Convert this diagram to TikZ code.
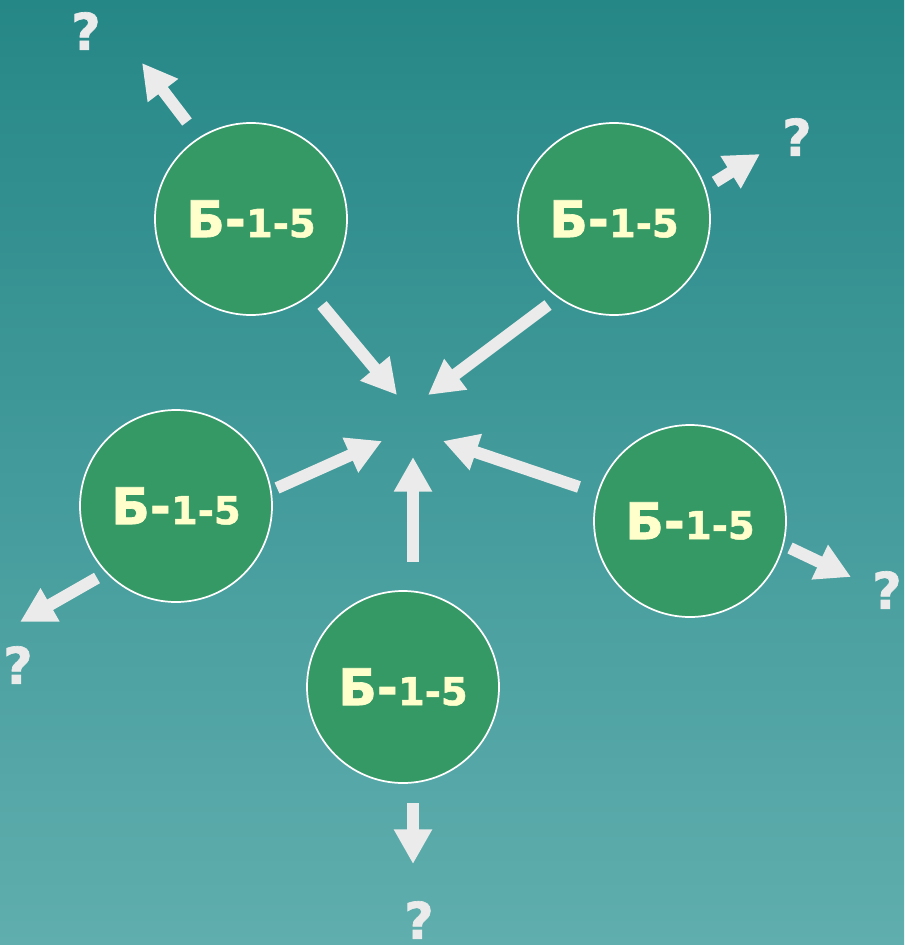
\documentclass[tikz,border=0pt]{standalone}
\usepackage{fontspec}
\setmainfont{DejaVu Sans}
\newfontfamily\heavyfont[BoldFeatures={FakeBold=1.3}]{DejaVu Sans}
\usetikzlibrary{arrows.meta}

\definecolor{bgtop}{RGB}{38,135,135}
\definecolor{bgbottom}{RGB}{96,174,174}
\definecolor{ballgreen}{RGB}{53,153,102}
\definecolor{labelyellow}{RGB}{255,255,204}
\definecolor{arrowgray}{RGB}{235,235,235}

\newcommand{\ballname}{{\heavyfont\fontsize{38}{40}\selectfont\bfseries Б-}{\heavyfont\fontsize{29}{30}\selectfont\bfseries 1-5}}

\begin{document}
\begin{tikzpicture}[x=0.75pt,y=-0.75pt,
    ball/.style={circle, draw=white, line width=1.3pt, fill=ballgreen, minimum size=144pt, inner sep=0pt, text=labelyellow},
    fat/.style={draw=arrowgray, line width=9pt, -{Triangle[width=27pt,length=26pt]}},
    qmark/.style={text=arrowgray, inner sep=0pt, font=\heavyfont\fontsize{38}{40}\selectfont\bfseries}]

        \shade[top color=bgtop, bottom color=bgbottom] (0,0) rectangle (904,945);
        \useasboundingbox (0,0) rectangle (904,945);

        % the five balls
        \node[ball] (b1) at (251,219) {\ballname};
        \node[ball] (b2) at (614,219) {\ballname};
        \node[ball] (b3) at (176,506) {\ballname};
        \node[ball] (b4) at (690,521) {\ballname};
        \node[ball] (b5) at (403,687) {\ballname};

        % question marks
        \node[qmark] (q1) at (86,31) {?};
        \node[qmark] (q2) at (797,137) {?};
        \node[qmark] (q3) at (18,665) {?};
        \node[qmark] (q4) at (887,590) {?};
        \node[qmark] (q5) at (419,920) {?};

        % arrows towards the middle
        \coordinate (i1s) at (322,305); \coordinate (i1e) at (397,395);
        \coordinate (i2s) at (548,305); \coordinate (i2e) at (428,395);
        \coordinate (i3s) at (277,488); \coordinate (i3e) at (382,441);
        \coordinate (i4s) at (579,487); \coordinate (i4e) at (443,441);
        \coordinate (i5s) at (413,562); \coordinate (i5e) at (413,457);
        \draw[fat] (i1s) -- (i1e);
        \draw[fat] (i2s) -- (i2e);
        \draw[fat] (i3s) -- (i3e);
        \draw[fat] (i4s) -- (i4e);
        \draw[fat] (i5s) -- (i5e);

        % arrows going out
        \coordinate (o1s) at (187,122); \coordinate (o1e) at (142,63);
        \coordinate (o2s) at (715,182); \coordinate (o2e) at (760,154);
        \coordinate (o3s) at (97,578);  \coordinate (o3e) at (20,622);
        \coordinate (o4s) at (790,548); \coordinate (o4e) at (851,577);
        \coordinate (o5s) at (413,803); \coordinate (o5e) at (413,864);
        \draw[fat] (o1s) -- (o1e);
        \draw[fat] (o2s) -- (o2e);
        \draw[fat] (o3s) -- (o3e);
        \draw[fat] (o4s) -- (o4e);
        \draw[fat] (o5s) -- (o5e);

    \end{tikzpicture}
\end{document}
